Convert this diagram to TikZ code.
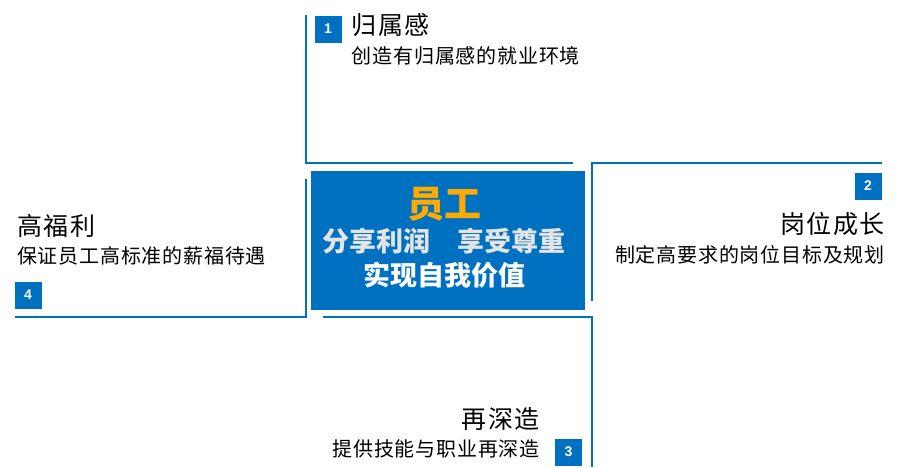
\documentclass[tikz,border=0pt]{standalone}
\usepackage{fontspec}
\setmainfont{Noto Sans CJK SC}
\newfontfamily\numfont{Liberation Sans}
\usetikzlibrary{positioning}
\definecolor{mainblue}{RGB}{0,112,192}
\definecolor{titleorange}{RGB}{255,170,0}
\definecolor{mottogray}{RGB}{228,228,228}
\tikzstyle{frameline}=[draw=mainblue,line width=2pt]
\tikzstyle{badge}=[rectangle,fill=mainblue,text=white,minimum size=27pt,inner sep=0pt,font=\numfont\bfseries\fontsize{14}{14}\selectfont]
\tikzstyle{heading}=[inner sep=0pt,font=\fontsize{25}{25}\selectfont\addfontfeature{LetterSpace=6}]
\tikzstyle{subline}=[inner sep=0pt,font=\fontsize{20}{20}\selectfont\addfontfeature{LetterSpace=4}]
\tikzstyle{core}=[rectangle,fill=mainblue,minimum width=274pt,minimum height=139pt,inner sep=0pt]
\tikzstyle{motto}=[inner sep=0pt,font=\bfseries\fontsize{27}{27}\selectfont]

\begin{document}
\begin{tikzpicture}[x=1pt,y=-1pt]
  \useasboundingbox (0,0) rectangle (903,467);

% frame lines
  \draw[frameline] (305.5,15) -- (305.5,163) -- (573,163);
  \draw[frameline] (882,163) -- (591.5,163) -- (591.5,301);
  \draw[frameline] (305.5,179) -- (305.5,317) -- (15,317);
  \draw[frameline] (323,317) -- (591.5,317) -- (591.5,467);

% centre
  \node[core] (staff) at (448,240) {};
  \node[motto,text=titleorange,font=\bfseries\fontsize{37}{37}\selectfont] (staffname) at (444,204) {员工};
  \node[motto,text=mottogray] (share) at (444,241) {分享利润　享受尊重};
  \node[motto,text=white] (selfvalue) at (444,275) {实现自我价值};

% badges
  \foreach \pos/\name/\num in {{(328,29)/b1/1}, {(868,186)/b2/2}, {(568.5,452)/b3/3}, {(28,295)/b4/4}}
      \node[badge] (\name) at \pos {\num};

% headings
  \foreach \pos/\name/\anc/\label in {{(351.7,13)/h1/north west/归属感}, {(885,212)/h2/north east/岗位成长}, {(540,407)/h3/north east/再深造}, {(17,214)/h4/north west/高福利}}
      \node[heading,anchor=\anc] (\name) at \pos {\label};

% sub lines
  \foreach \pos/\name/\anc/\label in {{(351.7,46)/s1/north west/创造有归属感的就业环境}, {(885,245)/s2/north east/制定高要求的岗位目标及规划}, {(540,439)/s3/north east/提供技能与职业再深造}, {(17,246)/s4/north west/保证员工高标准的薪福待遇}}
      \node[subline,anchor=\anc] (\name) at \pos {\label};

\end{tikzpicture}
\end{document}
